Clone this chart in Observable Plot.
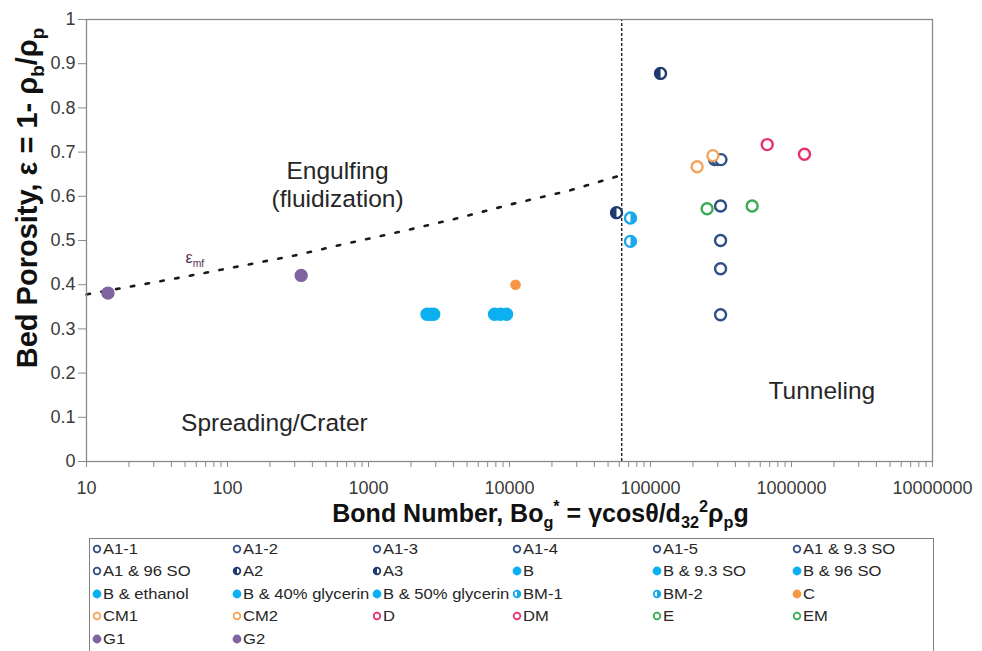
<!DOCTYPE html>
<html><head><meta charset="utf-8">
<script src="https://cdn.jsdelivr.net/npm/d3@7"></script>
<script src="https://cdn.jsdelivr.net/npm/@observablehq/plot@0.6"></script>
<style>
html,body{margin:0;padding:0;background:#fff;overflow:hidden;width:982px;height:651px;}
#chart svg{display:block;}
#legend{position:absolute;left:89px;top:538px;width:845px;height:130px;border:1.3px solid #7f7f7f;box-sizing:border-box;font-family:"Liberation Sans",Arial,sans-serif;font-size:14.3px;color:#262626;}
.item{position:absolute;height:20px;display:flex;align-items:center;white-space:nowrap;}
.item svg{display:block;margin-right:0.5px;}
.item span{display:inline-block;transform:scaleX(1.16);transform-origin:left center;}
</style></head><body>
<div id="chart"></div><div id="legend"></div>
<script>
// ---- data ----
const series = ["A1-1","A1-2","A1-3","A1-4","A1-5","A1 & 9.3 SO","A1 & 96 SO","A2","A3","B","B & 9.3 SO","B & 96 SO","B & ethanol","B & 40% glycerin","B & 50% glycerin","BM-1","BM-2","C","CM1","CM2","D","DM","E","EM","G1","G2"];
const bondNumber = [285000,299000,316000,314000,314000,314000,314000,57400,117800,2600,2900,2750,7830,9530,8600,72100,72100,11040,214000,277000,673000,1236000,252000,526000,14.2,333];
const bedPorosity = [0.683,0.683,0.683,0.578,0.500,0.436,0.332,0.563,0.878,0.333,0.333,0.333,0.333,0.333,0.333,0.551,0.498,0.400,0.667,0.692,0.717,0.695,0.572,0.578,0.381,0.421];

// minimum-fluidization porosity curve (eps_mf)
const mfBond = [10,41,118,299,632,1630,3880,10900,26700,62500];
const mfPorosity = [0.378,0.413,0.441,0.466,0.490,0.519,0.547,0.584,0.613,0.648];

// regime boundary (vertical dashed line)
const boundaryBond = [62500];

// axis ticks
const xTickLabels = [10,100,1000,10000,100000,1000000,10000000];
const yTicks = [0,0.1,0.2,0.3,0.4,0.5,0.6,0.7,0.8,0.9,1];

// regime annotations
const annotationText = ["Engulfing\n(fluidization)","Spreading/Crater","Tunneling"];
const annotationBond = [603,215,1640000];
const annotationPorosity = [0.628,0.0885,0.1625];

const xTitleParts = [["Bond Number, Bo",0],["g",1],["*",-1],[" = γcosθ/d",0],["32",1],["2",-1],["ρ",0],["p",1],["g",0]];
const yTitleParts = [["Bed Porosity, ε = 1- ρ",0],["b",1],["/ρ",0],["p",1]];
const mfParts = [["ε",0],["mf",1]];

// ---- styles ----
function styleOf(s){
  if (s.startsWith("A1")) return {color:"#2f4f86", kind:"open"};
  if (s==="A2"||s==="A3") return {color:"#1e3a6e", kind:"left"};
  if (s.startsWith("BM")) return {color:"#1aa9eb", kind:"right"};
  if (s.startsWith("B")) return {color:"#0cb0f0", kind:"filled"};
  if (s==="C") return {color:"#f79646", kind:"filled", small:true};
  if (s.startsWith("CM")) return {color:"#f2a35c", kind:"open"};
  if (s.startsWith("D")) return {color:"#e6336e", kind:"open"};
  if (s.startsWith("E")) return {color:"#3bab55", kind:"open"};
  return {color:"#8064a2", kind:"filled"};
}
const leftHalf = {draw(ctx,size){const r=Math.sqrt(size/Math.PI);ctx.moveTo(0,-r);ctx.arc(0,0,r,-Math.PI/2,Math.PI/2,true);ctx.closePath();}};
const rightHalf = {draw(ctx,size){const r=Math.sqrt(size/Math.PI);ctx.moveTo(0,-r);ctx.arc(0,0,r,-Math.PI/2,Math.PI/2,false);ctx.closePath();}};

const points = series.map((s,i)=>({series:s, bond:bondNumber[i], porosity:bedPorosity[i]}));
const mfCurve = mfBond.map((b,i)=>({bond:b, porosity:mfPorosity[i]}));
const annotations = annotationText.map((t,i)=>({text:t, bond:annotationBond[i], porosity:annotationPorosity[i]}));
const minorTicks = d3.scaleLog().domain([10,1e7]).ticks(30).filter(v => !xTickLabels.includes(v));

const joinParts = p => p.map(d=>d[0]).join("");
const X_TITLE = 25, Y_TITLE = 29, MF = 16;

const chart = Plot.plot({
  width: 982, height: 530,
  marginLeft: 86, marginRight: 50, marginTop: 19, marginBottom: 69,
  style: {fontFamily: "'Liberation Sans', Arial, sans-serif", background: "white", overflow: "visible"},
  x: {type: "log", domain: [10, 1e7]},
  y: {domain: [0, 1]},
  marks: [
    Plot.ruleX(boundaryBond, {y1: 0, y2: 1, stroke: "#222", strokeWidth: 1.4, strokeDasharray: "3,2"}),
    Plot.line(mfCurve, {x: "bond", y: "porosity", stroke: "#1a1a1a", strokeWidth: 2.6, strokeDasharray: "3.5,11.5"}),
    Plot.frame({stroke: "#8a8a8a", strokeWidth: 1.3}),
    Plot.axisY({ticks: yTicks, tickFormat: d => d === 0 ? "0" : d === 1 ? "1" : d.toFixed(1), tickSize: 8, tickPadding: 3, fontSize: 18, stroke: "#8a8a8a", fill: "#3a3a3a", label: null}),
    Plot.axisX({ticks: xTickLabels, tickFormat: d => String(d), tickSize: 6, tickPadding: 14, fontSize: 18, stroke: "#8a8a8a", fill: "#3a3a3a", label: null}),
    Plot.axisX({ticks: minorTicks, tickFormat: () => "", tickSize: 6, stroke: "#8a8a8a", label: null}),
    Plot.text(annotations, {x: "bond", y: "porosity", text: "text", fontSize: 24.5, lineHeight: 1.15, fill: "#262626"}),
    Plot.text([joinParts(mfParts)], {x: () => 50.4, y: () => 0.448, textAnchor: "start", lineAnchor: "bottom", fontSize: MF, fill: "#5a3452"}),
    Plot.dot(points, {filter: d => !styleOf(d.series).small, x: "bond", y: "porosity", r: 5.5, strokeWidth: 2.4,
      stroke: d => styleOf(d.series).color,
      fill: d => styleOf(d.series).kind === "filled" ? styleOf(d.series).color : "white"}),
    Plot.dot(points, {filter: d => styleOf(d.series).small, x: "bond", y: "porosity", r: 5.3, fill: d => styleOf(d.series).color}),
    Plot.dot(points, {filter: d => styleOf(d.series).kind === "left", x: "bond", y: "porosity", r: 5.6, symbol: leftHalf, fill: d => styleOf(d.series).color}),
    Plot.dot(points, {filter: d => styleOf(d.series).kind === "right", x: "bond", y: "porosity", r: 5.6, symbol: rightHalf, fill: d => styleOf(d.series).color}),
    Plot.text([joinParts(xTitleParts)], {frameAnchor: "bottom", dx: 31, dy: 60, lineAnchor: "bottom", textAnchor: "middle", fontSize: X_TITLE, fontWeight: "bold", fill: "#111"}),
    Plot.text([joinParts(yTitleParts)], {frameAnchor: "left", dx: -50, dy: -42.5, rotate: -90, lineAnchor: "bottom", textAnchor: "middle", fontSize: Y_TITLE, fontWeight: "bold", fill: "#111"})
  ]
});
document.getElementById("chart").append(chart);

// rich text (sub/superscripts)
const rich = [[xTitleParts, X_TITLE], [yTitleParts, Y_TITLE], [mfParts, MF]];
function setRich(el, parts, base){
  el.textContent = "";
  let cur = 0;
  for (const [s, k] of parts){
    const t = document.createElementNS("http://www.w3.org/2000/svg", "tspan");
    const target = k === 1 ? base*0.25 : k === -1 ? -base*0.4 : 0;
    if (target !== cur) t.setAttribute("dy", target - cur);
    cur = target;
    if (k) t.setAttribute("font-size", base*0.65);
    t.textContent = s;
    el.appendChild(t);
  }
}
for (const el of chart.querySelectorAll("text")){
  for (const [parts, base] of rich){
    if (el.textContent === joinParts(parts)) { setRich(el, parts, base); break; }
  }
}

// legend
const legend = document.getElementById("legend");
series.forEach((s, i) => {
  const st = styleOf(s);
  const col = i % 6, row = Math.floor(i / 6);
  const item = document.createElement("div");
  item.className = "item";
  item.style.left = (2.2 + col*140) + "px";
  item.style.top = (row*22.5 - 0.3) + "px";
  let m;
  if (st.kind === "filled") m = `<circle cx="5" cy="5" r="4.4" fill="${st.color}"/>`;
  else {
    m = `<circle cx="5" cy="5" r="3.3" fill="white" stroke="${st.color}" stroke-width="1.8"/>`;
    if (st.kind === "left") m += `<path d="M5,1.7 A3.3,3.3 0 0 0 5,8.3 Z" fill="${st.color}"/>`;
    if (st.kind === "right") m += `<path d="M5,1.7 A3.3,3.3 0 0 1 5,8.3 Z" fill="${st.color}"/>`;
  }
  item.innerHTML = `<svg width="10" height="10">${m}</svg><span>${s.replace(/&/g,"&amp;")}</span>`;
  legend.appendChild(item);
});
</script>
</body></html>
